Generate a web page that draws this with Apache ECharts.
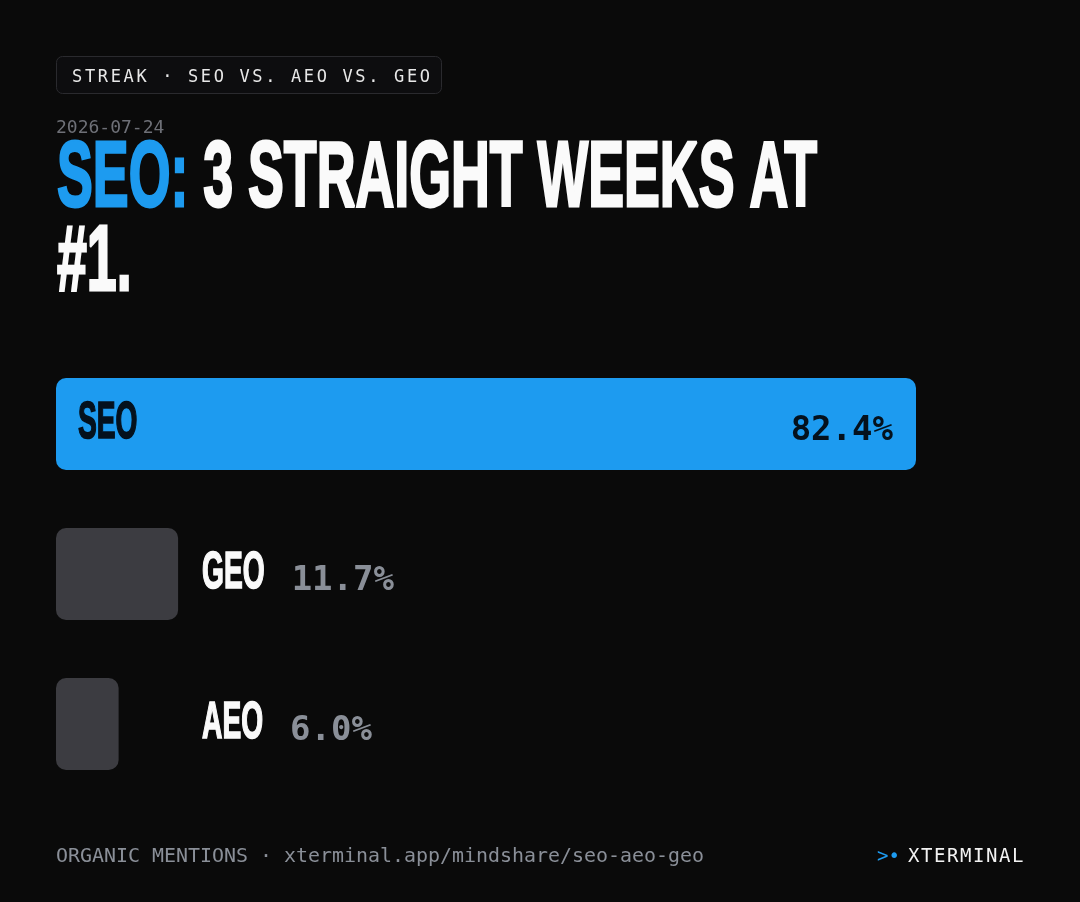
<!DOCTYPE html>
<html><head><meta charset="utf-8">
<script src="https://cdn.jsdelivr.net/npm/echarts@6/dist/echarts.min.js"></script>
<style>html,body{margin:0;padding:0;background:#0a0a0a;}#chart{width:1080px;height:902px;}</style>
</head><body><div id="chart"></div>
<script>
// ---- data ----
const categories = ['SEO', 'GEO', 'AEO'];
const shares = [82.4, 11.7, 6.0];
const valueLabels = shares.map(v => v.toFixed(1) + '%');
const tagText = 'STREAK · SEO VS. AEO VS. GEO';
const dateText = '2026-07-24';
const titleLead = 'SEO:';
const titleRest = '3 STRAIGHT WEEKS AT';
const titleLine2 = '#1.';
const footerLeft = 'ORGANIC MENTIONS · xterminal.app/mindshare/seo-aeo-geo';
const brandMark = '>•';
const brandName = 'XTERMINAL';

// ---- style ----
const BLUE = '#1d9bf0';
const GRAY_BAR = '#3c3c41';
const DARK_TEXT = '#04111d';
const WHITE = '#fafafa';
const MUTED = '#8a8f98';
const BG = '#0a0a0a';
const DISPLAY = '"Liberation Sans Narrow", "Arial Narrow", sans-serif';
const MONO = '"DejaVu Sans Mono", monospace';

const ctx = document.createElement('canvas').getContext('2d');
const TITLE_SIZE = 86;
ctx.font = 'bold ' + TITLE_SIZE + 'px ' + DISPLAY;
const titleW = ctx.measureText(titleLead + ' ' + titleRest).width;
const capH = ctx.measureText('H').actualBoundingBoxAscent;
const SX = 760 / titleW;
const SY = 0.9 * 71 / capH;
const NAME_SIZE = TITLE_SIZE * 40 / 71;
const NAME_SX = SX * 0.93;
const capFix = f => 0.0733 * f;

ctx.font = '20px ' + MONO;
const footSX = 648 / ctx.measureText(footerLeft).width;

const leaderIndex = shares.indexOf(Math.max(...shares));
const outsideMax = Math.max(...shares.filter((v, i) => i !== leaderIndex));

function spaced(str, x0, y, adv, style) {
  return Array.from(str).map((ch, i) => ({
    type: 'text', x: x0 + i * adv, y: y, silent: true,
    style: Object.assign({ text: ch, align: 'left', verticalAlign: 'middle' }, style)
  }));
}
function heavy(color, size, lw) {
  return { fill: color, stroke: color, lineWidth: lw, fontSize: size, fontFamily: DISPLAY, fontWeight: 'bold' };
}

const chart = echarts.init(document.getElementById('chart'), null, { renderer: 'canvas' });
chart.setOption({
  backgroundColor: BG,
  animation: false,
  grid: { left: 56, width: 860, top: 349, height: 450 },
  xAxis: { type: 'value', min: 0, max: Math.max(...shares), show: false },
  yAxis: { type: 'category', data: categories, inverse: true, show: false },
  series: [
    {
      type: 'bar',
      barWidth: 92,
      silent: true,
      z: 2,
      data: shares.map((v, i) => ({
        value: v,
        itemStyle: { color: i === leaderIndex ? BLUE : GRAY_BAR, borderRadius: 10 }
      }))
    },
    {
      type: 'custom',
      silent: true,
      z: 10,
      encode: { x: 0, y: 1 },
      data: shares.map((v, i) => [v, i]),
      renderItem: function (params, api) {
        const i = params.dataIndex;
        const v = api.value(0);
        const end = api.coord([v, i]);
        const start = api.coord([0, i]);
        const cy = end[1];
        const children = [];
        const nameY = cy - 4 + capFix(NAME_SIZE);
        const valY = cy + 7;
        if (i === leaderIndex) {
          children.push({
            type: 'text', x: start[0] + 22, y: nameY, scaleX: NAME_SX, scaleY: SY, z2: 10,
            style: Object.assign({ text: categories[i], align: 'left', verticalAlign: 'middle' }, heavy(DARK_TEXT, NAME_SIZE, 1.6))
          });
          children.push({
            type: 'text', x: end[0] - 23, y: valY, z2: 10,
            style: { text: valueLabels[i], fill: DARK_TEXT, font: 'bold 34px ' + MONO, align: 'right', verticalAlign: 'middle' }
          });
        } else {
          const lx = api.coord([outsideMax, i])[0] + 24;
          ctx.font = 'bold ' + NAME_SIZE + 'px ' + DISPLAY;
          const nameW = ctx.measureText(categories[i]).width * NAME_SX;
          children.push({
            type: 'text', x: lx, y: nameY, scaleX: NAME_SX, scaleY: SY,
            style: Object.assign({ text: categories[i], align: 'left', verticalAlign: 'middle' }, heavy(WHITE, NAME_SIZE, 1.6))
          });
          children.push({
            type: 'text', x: lx + nameW + 27, y: valY,
            style: { text: valueLabels[i], fill: MUTED, font: 'bold 34px ' + MONO, align: 'left', verticalAlign: 'middle' }
          });
        }
        return { type: 'group', children: children };
      }
    }
  ],
  graphic: [
    { type: 'rect', silent: true, shape: { x: 56.5, y: 56.5, width: 385, height: 37, r: 6 }, style: { fill: '#0d0d0f', stroke: '#2a2a2e', lineWidth: 1 } }
  ].concat(
    spaced(tagText, 72, 77.5, 12.88, { font: '17px ' + MONO, fill: '#e8e8e8' }),
    [
      { type: 'text', x: 56, y: 128.5, silent: true, style: { text: dateText, font: '18px ' + MONO, fill: '#6e7077', align: 'left', verticalAlign: 'middle' } },
      {
        type: 'text', x: 57, y: 174.5 + capFix(TITLE_SIZE), scaleX: SX, scaleY: SY, silent: true,
        style: {
          text: '{a|' + titleLead + '}{b| ' + titleRest + '}',
          align: 'left', verticalAlign: 'middle',
          rich: { a: heavy(BLUE, TITLE_SIZE, 2.6), b: heavy(WHITE, TITLE_SIZE, 2.6) }
        }
      },
      {
        type: 'text', x: 57, y: 258 + capFix(TITLE_SIZE), scaleX: SX, scaleY: SY, silent: true,
        style: Object.assign({ text: titleLine2, align: 'left', verticalAlign: 'middle' }, heavy(WHITE, TITLE_SIZE, 2.6))
      },
      { type: 'text', x: 56, y: 857, scaleX: footSX, silent: true, style: { text: footerLeft, font: '20px ' + MONO, fill: MUTED, align: 'left', verticalAlign: 'middle' } },
      { type: 'text', x: 900, y: 857, silent: true, style: { text: brandMark, font: '19px ' + MONO, fill: BLUE, align: 'right', verticalAlign: 'middle' } }
    ],
    spaced(brandName, 908, 857, 13.0, { font: '19px ' + MONO, fill: '#f2f2f2' })
  )
});
</script>
</body></html>
